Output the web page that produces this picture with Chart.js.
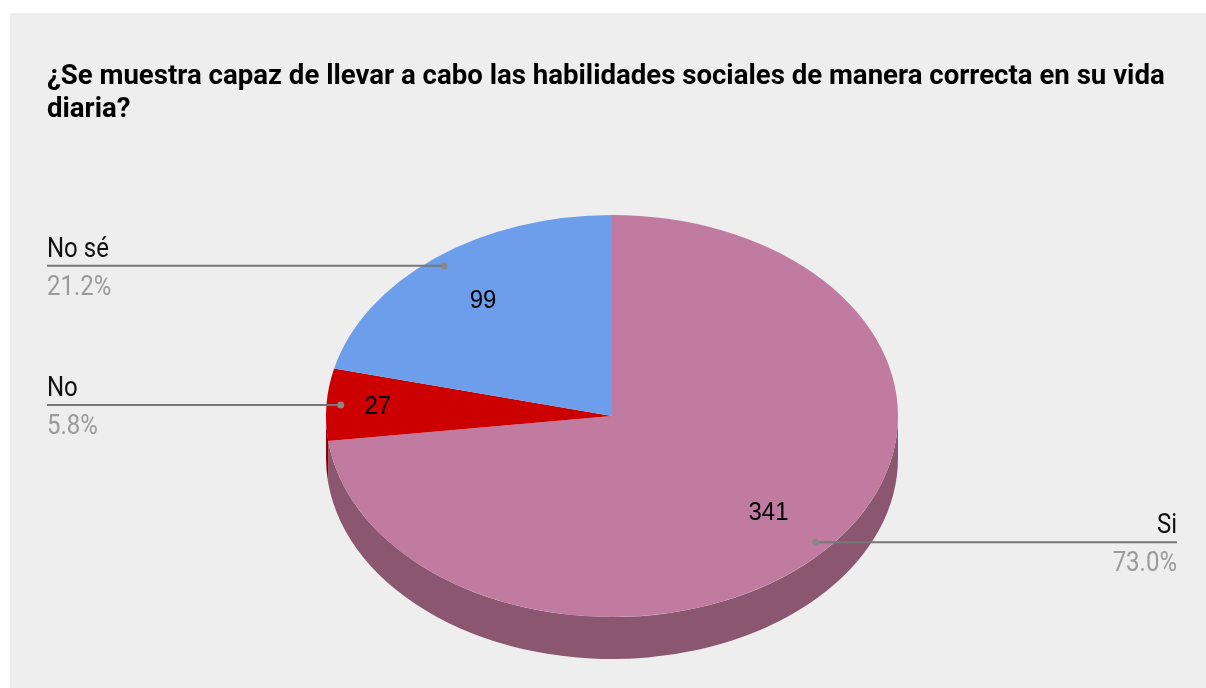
<!DOCTYPE html>
<html>
<head>
<meta charset="utf-8">
<script src="https://cdn.jsdelivr.net/npm/chart.js@4.4.1/dist/chart.umd.min.js"></script>
<style>
  html, body { margin: 0; padding: 0; background: #fff; }
  #wrap { position: relative; width: 1206px; height: 688px; }
</style>
</head>
<body>
<div id="wrap"><canvas id="pie"></canvas></div>
<script>
// data
const titleLines = ['¿Se muestra capaz de llevar a cabo las habilidades sociales de manera correcta en su vida', 'diaria?'];
const categories = ['Si', 'No', 'No sé'];
const counts = [341, 27, 99];
const topColors = ['#c27ba0', '#cc0000', '#6d9eeb'];
const sideColors = ['#8a5670', '#8e0000', '#4d6fa5'];

// look of the fake 3D pie
const X_STRETCH = 286 / 201;   // ellipse wider than tall
const DEPTH = 42;
const valueRadius = [0.73, 0.82, 0.73];

function stretchedText(ctx, txt, x, y, font, color, align, baseline, sy) {
    ctx.save();
    ctx.font = font;
    ctx.fillStyle = color;
    ctx.textAlign = align;
    ctx.textBaseline = baseline;
    ctx.translate(x, y);
    ctx.scale(1, sy);
    ctx.fillText(txt, 0, 0);
    ctx.restore();
}

function normAngle(a) {
    const t = Math.PI * 2;
    return ((a % t) + t) % t;
}

const pie3d = {
    id: 'pie3d',
    beforeDraw(chart) {
        const ctx = chart.ctx;
        ctx.save();
        ctx.fillStyle = '#ffffff';
        ctx.fillRect(0, 0, chart.width, chart.height);
        ctx.fillStyle = '#eeeeee';
        ctx.fillRect(10, 13, chart.width - 10, chart.height - 13);
        ctx.restore();
        // title
        stretchedText(ctx, titleLines[0], 47, 84, 'bold 27.6px Roboto', '#000', 'left', 'alphabetic', 1.0);
        stretchedText(ctx, titleLines[1], 47, 117, 'bold 27.6px Roboto', '#000', 'left', 'alphabetic', 1.0);
    },
    beforeDatasetsDraw(chart) {
        const ctx = chart.ctx;
        const arcs = chart.getDatasetMeta(0).data;
        const cx = arcs[0].x, cy = arcs[0].y, r = arcs[0].outerRadius;
        ctx.save();
        ctx.translate(cx, cy);
        ctx.scale(X_STRETCH, 1);
        ctx.translate(-cx, -cy);
        // side wall, only the front half (angles 0..PI) shows
        arcs.forEach((arc, i) => {
            let a0 = arc.startAngle, a1 = arc.endAngle;
            let s = normAngle(a0);
            let e = s + (a1 - a0);
            [[s, e], [s - Math.PI * 2, e - Math.PI * 2]].forEach(([p, q]) => {
                const from = Math.max(p, 0), to = Math.min(q, Math.PI);
                if (to <= from) return;
                ctx.beginPath();
                ctx.arc(cx, cy, r, from, to);
                ctx.arc(cx, cy + DEPTH, r, to, from, true);
                ctx.closePath();
                ctx.fillStyle = sideColors[i];
                ctx.fill();
            });
        });
    },
    afterDatasetsDraw(chart) {
        chart.ctx.restore();
    },
    afterDraw(chart) {
        const ctx = chart.ctx;
        const arcs = chart.getDatasetMeta(0).data;
        const total = counts.reduce((a, b) => a + b, 0);
        arcs.forEach((arc, i) => {
            const cx = arc.x, cy = arc.y, r = arc.outerRadius;
            const mid = (arc.startAngle + arc.endAngle) / 2;
            const cos = Math.cos(mid), sin = Math.sin(mid);
            // value inside the slice
            const vr = r * valueRadius[i];
            stretchedText(ctx, String(counts[i]), cx + vr * cos * X_STRETCH, cy + vr * sin,
                '24px "Liberation Sans", Arial', '#000', 'center', 'middle', 1.06);
            // leader line to the side
            const dx = cx + r * 0.95 * cos * X_STRETCH, dy = cy + r * 0.95 * sin;
            const left = cos < 0;
            const ex = left ? 47 : 1177;
            ctx.save();
            ctx.strokeStyle = '#777777';
            ctx.lineWidth = 2;
            ctx.beginPath();
            ctx.moveTo(dx, dy);
            ctx.lineTo(ex, dy);
            ctx.stroke();
            ctx.fillStyle = '#888888';
            ctx.beginPath();
            ctx.arc(dx, dy, 3.5, 0, Math.PI * 2);
            ctx.fill();
            ctx.restore();
            const align = left ? 'left' : 'right';
            const pct = (counts[i] / total * 100).toFixed(1) + '%';
            stretchedText(ctx, categories[i], ex, dy - 9, '24px Roboto', '#111', align, 'alphabetic', 1.16);
            stretchedText(ctx, pct, ex, dy + 29, '24px Roboto', '#9a9a9a', align, 'alphabetic', 1.16);
        });
    }
};

new Chart(document.getElementById('pie'), {
    type: 'pie',
    data: {
        labels: categories,
        datasets: [{
            data: counts,
            backgroundColor: topColors,
            borderWidth: 0,
            hoverOffset: 0,
            clip: false
        }]
    },
    options: {
        responsive: true,
        maintainAspectRatio: false,
        animation: false,
        events: [],
        layout: { padding: { top: 215, bottom: 71, left: 47, right: 29 } },
        plugins: {
            legend: { display: false },
            tooltip: { enabled: false },
            title: { display: false }
        }
    },
    plugins: [pie3d]
});
</script>
</body>
</html>
